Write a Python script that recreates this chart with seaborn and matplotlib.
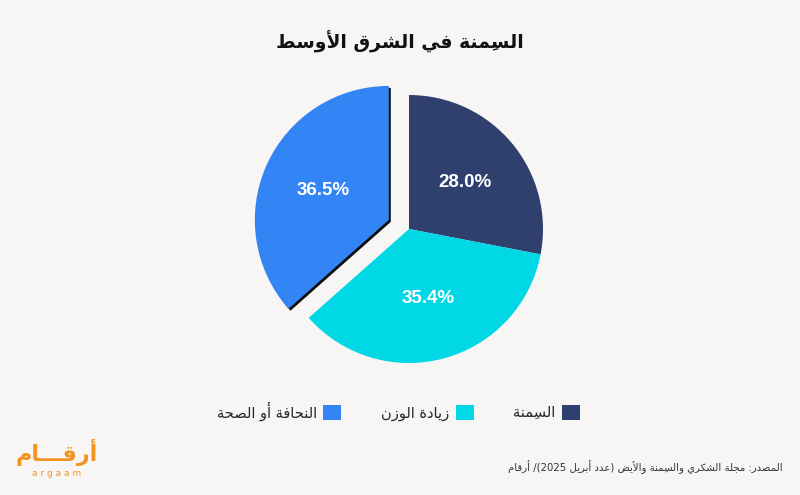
import matplotlib
matplotlib.use("Agg")
import matplotlib.pyplot as plt
import matplotlib.patches as mpatches
import matplotlib.patheffects as pe
import seaborn as sns

# ---------------- data ----------------
categories = ["السِمنة", "زيادة الوزن", "النحافة أو الصحة"]
values = [28.0, 35.4, 36.5]
explode_flags = [0, 0, 1]
title_text = "السِمنة في الشرق الأوسط"
source_text = "المصدر: مجلة الشكري والسِمنة والأيض (عدد أبريل 2025)/ أرقام"
logo_text = "أرقـــام"
logo_sub = "a r g a a m"
palette = ["#2f3f6e", "#00d8e6", "#3384f4"]

# ---------------- simple Arabic shaping + RTL ordering ----------------
FORMS = {
    "\u0622": (0xFE81, 0xFE82), "\u0623": (0xFE83, 0xFE84), "\u0625": (0xFE87, 0xFE88),
    "\u0627": (0xFE8D, 0xFE8E), "\u0628": (0xFE8F, 0xFE90, 0xFE91, 0xFE92),
    "\u0629": (0xFE93, 0xFE94), "\u062A": (0xFE95, 0xFE96, 0xFE97, 0xFE98),
    "\u062B": (0xFE99, 0xFE9A, 0xFE9B, 0xFE9C), "\u062C": (0xFE9D, 0xFE9E, 0xFE9F, 0xFEA0),
    "\u062D": (0xFEA1, 0xFEA2, 0xFEA3, 0xFEA4), "\u062E": (0xFEA5, 0xFEA6, 0xFEA7, 0xFEA8),
    "\u062F": (0xFEA9, 0xFEAA), "\u0630": (0xFEAB, 0xFEAC), "\u0631": (0xFEAD, 0xFEAE),
    "\u0632": (0xFEAF, 0xFEB0), "\u0633": (0xFEB1, 0xFEB2, 0xFEB3, 0xFEB4),
    "\u0634": (0xFEB5, 0xFEB6, 0xFEB7, 0xFEB8), "\u0635": (0xFEB9, 0xFEBA, 0xFEBB, 0xFEBC),
    "\u0636": (0xFEBD, 0xFEBE, 0xFEBF, 0xFEC0), "\u0637": (0xFEC1, 0xFEC2, 0xFEC3, 0xFEC4),
    "\u0638": (0xFEC5, 0xFEC6, 0xFEC7, 0xFEC8), "\u0639": (0xFEC9, 0xFECA, 0xFECB, 0xFECC),
    "\u063A": (0xFECD, 0xFECE, 0xFECF, 0xFED0), "\u0641": (0xFED1, 0xFED2, 0xFED3, 0xFED4),
    "\u0642": (0xFED5, 0xFED6, 0xFED7, 0xFED8), "\u0643": (0xFED9, 0xFEDA, 0xFEDB, 0xFEDC),
    "\u0644": (0xFEDD, 0xFEDE, 0xFEDF, 0xFEE0), "\u0645": (0xFEE1, 0xFEE2, 0xFEE3, 0xFEE4),
    "\u0646": (0xFEE5, 0xFEE6, 0xFEE7, 0xFEE8), "\u0647": (0xFEE9, 0xFEEA, 0xFEEB, 0xFEEC),
    "\u0648": (0xFEED, 0xFEEE), "\u0649": (0xFEEF, 0xFEF0),
    "\u064A": (0xFEF1, 0xFEF2, 0xFEF3, 0xFEF4),
    "\u0640": (0x0640, 0x0640, 0x0640, 0x0640),
}
LAM_ALEF = {"\u0622": (0xFEF5, 0xFEF6), "\u0623": (0xFEF7, 0xFEF8),
            "\u0625": (0xFEF9, 0xFEFA), "\u0627": (0xFEFB, 0xFEFC)}
MIRROR = {"(": ")", ")": "(", "[": "]", "]": "["}


def _is_mark(c):
    return "\u064B" <= c <= "\u0652"


def ar(s):
    chars = list(s)
    n = len(chars)

    def prev_letter(i):
        j = i - 1
        while j >= 0 and _is_mark(chars[j]):
            j -= 1
        return chars[j] if j >= 0 else None

    def next_letter(i):
        j = i + 1
        while j < n and _is_mark(chars[j]):
            j += 1
        return chars[j] if j < n else None

    clusters = []
    i = 0
    while i < n:
        c = chars[i]
        if _is_mark(c) and clusters:
            # mark placed before its base in visual order so it overlays it
            clusters[-1] = c + clusters[-1]
            i += 1
            continue
        if c not in FORMS:
            clusters.append(c)
            i += 1
            continue
        p = prev_letter(i)
        joins_prev = p is not None and p in FORMS and len(FORMS[p]) == 4
        if c == "\u0644":
            j = i + 1
            marks = ""
            while j < n and _is_mark(chars[j]):
                marks += chars[j]
                j += 1
            if j < n and chars[j] in LAM_ALEF:
                clusters.append(marks + chr(LAM_ALEF[chars[j]][1 if joins_prev else 0]))
                i = j + 1
                continue
        nx = next_letter(i)
        forms = FORMS[c]
        joins_next = len(forms) == 4 and nx is not None and nx in FORMS
        if joins_prev and joins_next:
            f = forms[3]
        elif joins_prev:
            f = forms[1]
        elif joins_next:
            f = forms[2]
        else:
            f = forms[0]
        clusters.append(chr(f))
        i += 1

    # visual order: reverse, keeping digit/latin runs left-to-right
    runs = []
    for cl in clusters:
        ltr = cl.isascii() and (cl.isalnum() or cl in ".%")
        if runs and runs[-1][0] == ltr and ltr:
            runs[-1][1].append(cl)
        else:
            runs.append([ltr, [cl]])
    out = []
    for ltr, cls in reversed(runs):
        if ltr:
            out.extend(cls)
        else:
            out.extend(MIRROR.get(x, x) for x in reversed(cls))
    return "".join(out)


# ---------------- style ----------------
bg = "#f7f6f4"
sns.set_theme(style="white", rc={"figure.facecolor": bg, "axes.facecolor": bg,
                                 "savefig.facecolor": bg})
plt.rcParams["font.family"] = ["DejaVu Sans"]

fig = plt.figure(figsize=(8, 4.95), dpi=100)
ax = fig.add_axes([0.26, 0.1313, 0.5025, 0.8121])

explode = [0.165 * f for f in explode_flags]
wedges, texts, autotexts = ax.pie(
    values, colors=palette, startangle=90, counterclock=False,
    explode=explode, radius=1.0,
    autopct=lambda p: f"{p * sum(values) / 100:.1f}%",
    pctdistance=0.54,
    wedgeprops=dict(linewidth=0),
    textprops=dict(color="white", fontsize=13.5, fontweight="bold",
                   family=["Liberation Sans", "DejaVu Sans"]),
)
ax.set_xlim(-1.5, 1.5)
ax.set_ylim(-1.5, 1.5)
ax.set_aspect("equal")
ax.axis("off")

# shadow on the exploded wedge
for w, f in zip(wedges, explode_flags):
    if f:
        w.set_path_effects([pe.SimplePatchShadow(offset=(1.4, -1.4), shadow_rgbFace="#000000",
                                                 alpha=0.95), pe.Normal()])

# title
fig.text(0.5, 1 - 42 / 495, ar(title_text), ha="center", va="center",
         fontsize=13.5, fontweight="bold", color="#111111")

# legend (right-to-left order)
handles = [mpatches.Patch(facecolor=c, edgecolor="none") for c in palette]
order = [2, 1, 0]
fig.legend([handles[k] for k in order], [ar(categories[k]) for k in order],
           loc="center", bbox_to_anchor=(0.498, 1 - 411 / 495), ncol=3,
           frameon=False, markerfirst=False, fontsize=10.5,
           handlelength=1.25, handleheight=1.25, handletextpad=0.45,
           columnspacing=2.7)

# source
fig.text(783 / 800, 1 - 467 / 495, ar(source_text), ha="right", va="center",
         fontsize=7.3, color="#333333")

# logo
fig.text(57 / 800, 1 - 452 / 495, ar(logo_text), ha="center", va="center",
         fontsize=16, fontweight="bold", color="#f39321")
fig.text(57 / 800, 1 - 473 / 495, logo_sub, ha="center", va="center",
         fontsize=6.5, color="#f39321")

fig.savefig("out.png", dpi=100, facecolor=bg)
